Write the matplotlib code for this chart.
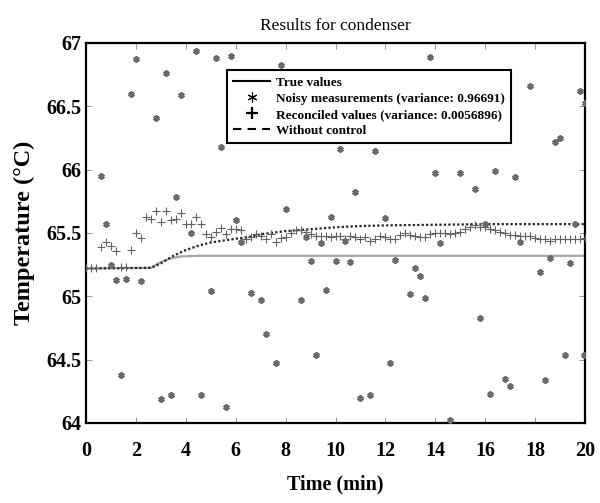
import numpy as np
import matplotlib
matplotlib.use("Agg")
import matplotlib.pyplot as plt
from matplotlib.lines import Line2D

plt.rcParams['font.family'] = ['Liberation Serif', 'DejaVu Serif']

# ---------------- data ----------------
# time grid of the reconciled series (min)
t_rec = np.round(np.arange(0, 20.0001, 0.2), 1)
rec_values = [
    65.22, 65.22, 65.22, 65.39, 65.43, 65.40, 65.36, 65.23, 65.23, 65.365,
    65.50, 65.46, 65.63, 65.61, 65.67, 65.59, 65.67, 65.60, 65.61, 65.66,
    65.57, 65.57, 65.63, 65.57, 65.49, 65.47, 65.51, 65.54, 65.49, 65.53,
    65.53, 65.52, 65.45, 65.465, 65.49, 65.48, 65.45, 65.49, 65.43, 65.46,
    65.465, 65.50, 65.52, 65.52, 65.51, 65.49, 65.48, 65.48, 65.475, 65.47,
    65.475, 65.475, 65.45, 65.475, 65.47, 65.45, 65.47, 65.44, 65.45, 65.475,
    65.47, 65.45, 65.45, 65.485, 65.50, 65.485, 65.475, 65.47, 65.47, 65.49,
    65.50, 65.50, 65.50, 65.49, 65.50, 65.51, 65.53, 65.55, 65.56, 65.55,
    65.55, 65.53, 65.52, 65.51, 65.50, 65.485, 65.485, 65.475, 65.475, 65.48,
    65.46, 65.45, 65.45, 65.44, 65.45, 65.45, 65.45, 65.45, 65.45, 65.45,
    65.46,
]

# noisy measurements visible inside the axes
t_noisy = [0.6, 0.8, 1.0, 1.2, 1.4, 1.6, 1.8, 2.0, 2.2, 2.8, 3.0, 3.2, 3.4, 3.6,
           3.8, 4.2, 4.4, 4.6, 5.0, 5.2, 5.4, 5.6, 5.8, 6.0, 6.2, 6.6, 7.0, 7.2,
           7.6, 7.8, 8.0, 8.6, 8.8, 9.0, 9.2, 9.4, 9.6, 9.8, 10.0, 10.2, 10.4,
           10.6, 10.8, 11.0, 11.4, 11.6, 12.0, 12.2, 12.4, 13.0, 13.2, 13.4, 13.6,
           13.8, 14.0, 14.2, 14.6, 15.0, 15.6, 15.8, 16.0, 16.2, 16.4, 16.8, 17.0,
           17.2, 17.4, 17.8, 18.2, 18.4, 18.6, 18.8, 19.0, 19.2, 19.4, 19.6, 19.8,
           19.95, 20.0]
y_noisy = [65.95, 65.57, 65.245, 65.13, 64.38, 65.14, 66.60, 66.87, 65.12, 66.41,
           64.19, 66.76, 64.22, 65.785, 66.59, 65.50, 66.94, 64.22, 65.04, 66.88,
           66.18, 64.13, 66.90, 65.60, 65.43, 65.03, 64.97, 64.70, 64.47, 66.83,
           65.69, 64.97, 65.47, 65.28, 64.54, 65.42, 65.05, 65.63, 65.28, 66.16,
           65.44, 65.27, 65.82, 64.20, 64.22, 66.15, 65.62, 64.47, 65.29, 65.02,
           65.22, 65.16, 64.99, 66.89, 65.97, 65.42, 64.02, 65.97, 65.85, 64.83,
           65.57, 64.23, 65.99, 64.35, 64.29, 65.94, 65.43, 66.66, 65.19, 64.34,
           65.30, 66.22, 66.25, 64.54, 65.26, 65.57, 66.62, 64.54, 66.53]

# true values (read at break points)
t_true = [0, 2.6, 3.0, 3.4, 3.8, 4.5, 20]
y_true = [65.22, 65.225, 65.27, 65.30, 65.315, 65.32, 65.32]

# without control (read at break points)
t_nc = [0, 2.6, 3.0, 3.5, 4.0, 4.5, 5.0, 5.5, 6.0, 6.6, 7.0, 8.0, 9.0, 10.0,
        11.0, 12.0, 14.0, 16.0, 18.0, 20.0]
y_nc = [65.22, 65.225, 65.26, 65.32, 65.365, 65.40, 65.425, 65.44, 65.455, 65.47,
        65.49, 65.515, 65.53, 65.545, 65.555, 65.56, 65.565, 65.57, 65.57, 65.57]

legend_labels = ["True values",
                 "Noisy measurements (variance: 0.96691)",
                 "Reconciled values (variance: 0.0056896)",
                 "Without control"]

xticks = [0, 2, 4, 6, 8, 10, 12, 14, 16, 18, 20]
yticks = [64, 64.5, 65, 65.5, 66, 66.5, 67]
ytick_labels = ["64", "64.5", "65", "65.5", "66", "66.5", "67"]

# ---------------- figure ----------------
fig = plt.figure(figsize=(6.0, 5.03), dpi=100)
ax = fig.add_axes([86 / 600, 1 - 423 / 503, 499 / 600, 380 / 503])

ax.plot(t_true, y_true, color='#a8a8a8', lw=1.6, zorder=2)
ax.plot(t_nc, y_nc, color='#222222', lw=1.6, linestyle=(0, (1.0, 1.0)), zorder=3)
ax.plot(t_rec, rec_values, linestyle='none', marker='+', ms=5.5, mew=0.8,
        color='#606060', zorder=4)
ax.plot(t_noisy, y_noisy, linestyle='none', marker=(6, 2, 0), ms=4.5, mew=1.5,
        color='#6a6a6a', zorder=5)

ax.set_xlim(0, 20)
ax.set_ylim(64, 67)
ax.set_xticks(xticks)
ax.set_xticklabels([str(v) for v in xticks])
ax.set_yticks(yticks)
ax.set_yticklabels(ytick_labels)

ax.tick_params(direction='in', length=4, width=0.6, color='#888888',
               top=True, right=True, labelsize=14.5, pad=3)
ax.tick_params(axis='x', pad=13)
for lab in ax.get_xticklabels() + ax.get_yticklabels():
    lab.set_fontweight('bold')
for sp in ax.spines.values():
    sp.set_linewidth(1.6)
    sp.set_color('black')

ax.set_title("Results for condenser", fontsize=12.5, pad=9)
ax.set_xlabel("Time (min)", fontsize=14.5, fontweight='bold', labelpad=10)
ax.set_ylabel("Temperature (°C)", fontsize=17.5, fontweight='bold', labelpad=8)

handles = [
    Line2D([], [], color='black', lw=1.5),
    Line2D([], [], color='black', linestyle='none', marker=(6, 2, 0), ms=7, mew=0.8),
    Line2D([], [], color='black', linestyle='none', marker='+', ms=9, mew=1.6),
    Line2D([], [], color='black', lw=1.5, linestyle=(0, (4, 3))),
]
leg = ax.legend(handles, legend_labels, loc='upper left',
                bbox_to_anchor=(0.283, 0.928), prop={'weight': 'bold', 'size': 9.5},
                frameon=True, fancybox=False, framealpha=1, edgecolor='black',
                borderpad=0.45, labelspacing=0.3, handlelength=2.8,
                handletextpad=0.45, borderaxespad=0)
leg.get_frame().set_linewidth(1.5)

fig.savefig("out.png", dpi=100)
